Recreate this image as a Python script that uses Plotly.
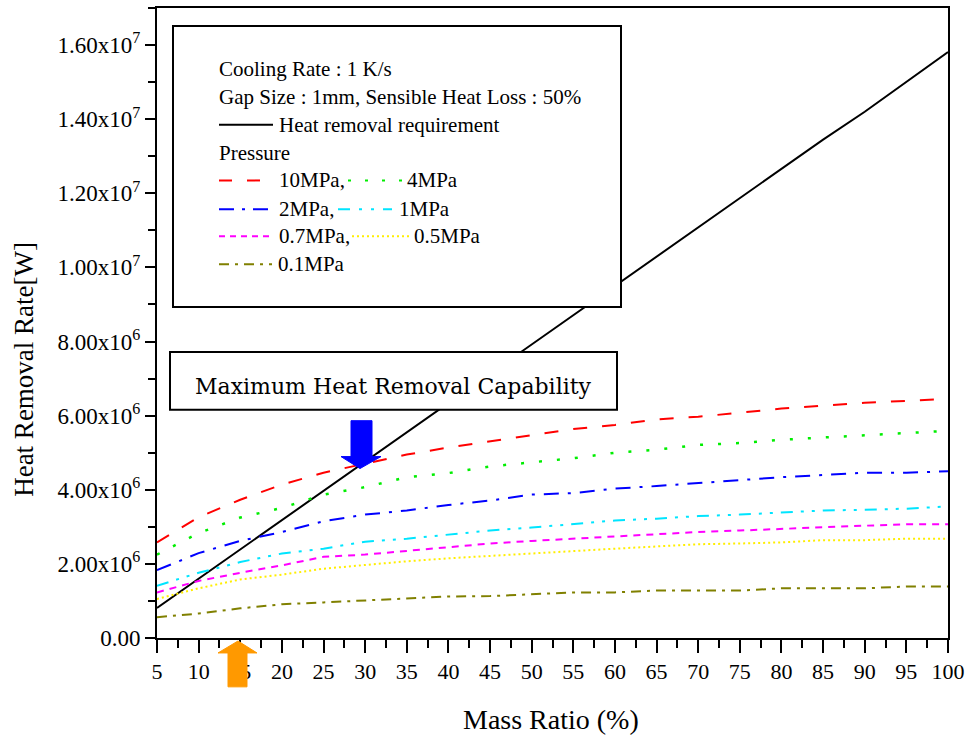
import plotly.graph_objects as go

# ---------------- data (values in W) ----------------
mass_ratio = [5, 10, 15, 20, 25, 30, 35, 40, 45, 50, 55, 60, 65, 70, 75, 80, 85, 90, 95, 100]

requirement = [0.81, 1.60, 2.39, 3.18, 3.97, 4.76, 5.55, 6.34, 7.13, 7.92,
               8.71, 9.50, 10.29, 11.08, 11.87, 12.66, 13.45, 14.20, 15.00, 15.81]
p10 = [2.58, 3.26, 3.73, 4.14, 4.46, 4.70, 4.95, 5.14, 5.30, 5.48,
       5.64, 5.75, 5.90, 5.97, 6.09, 6.19, 6.27, 6.35, 6.40, 6.45]
p4 = [2.25, 2.83, 3.25, 3.51, 3.87, 4.07, 4.34, 4.45, 4.63, 4.75,
      4.85, 5.00, 5.08, 5.21, 5.26, 5.35, 5.41, 5.48, 5.54, 5.59]
p2 = [1.83, 2.29, 2.62, 2.86, 3.15, 3.33, 3.44, 3.59, 3.71, 3.87,
      3.91, 4.03, 4.10, 4.18, 4.28, 4.34, 4.40, 4.46, 4.46, 4.50]
p1 = [1.41, 1.76, 2.05, 2.28, 2.41, 2.60, 2.68, 2.80, 2.90, 2.98,
      3.07, 3.17, 3.22, 3.29, 3.33, 3.38, 3.44, 3.46, 3.49, 3.55]
p07 = [1.23, 1.54, 1.76, 1.96, 2.19, 2.25, 2.35, 2.46, 2.55, 2.62,
       2.68, 2.72, 2.80, 2.86, 2.90, 2.95, 2.99, 3.03, 3.07, 3.07]
p05 = [1.05, 1.34, 1.58, 1.71, 1.87, 1.98, 2.07, 2.15, 2.21, 2.29,
       2.35, 2.41, 2.47, 2.53, 2.55, 2.58, 2.64, 2.64, 2.68, 2.68]
p01 = [0.56, 0.66, 0.80, 0.91, 0.96, 1.01, 1.07, 1.12, 1.13, 1.18,
       1.23, 1.23, 1.28, 1.28, 1.28, 1.34, 1.34, 1.34, 1.39, 1.39]
SCALE = 1e6

ytick_values = [0, 2e6, 4e6, 6e6, 8e6, 1e7, 1.2e7, 1.4e7, 1.6e7]
ytick_labels = ["0.00", "2.00x10<sup>6</sup>", "4.00x10<sup>6</sup>", "6.00x10<sup>6</sup>",
                "8.00x10<sup>6</sup>", "1.00x10<sup>7</sup>", "1.20x10<sup>7</sup>",
                "1.40x10<sup>7</sup>", "1.60x10<sup>7</sup>"]

# ---------------- layout geometry (pixels) ----------------
W, H = 971, 744
L, R, T, B = 157, 23, 6, 106
PW, PH = W - L - R, H - T - B


def px(x):
    return (x - L) / PW


def py(y):
    return (H - B - y) / PH


SERIF = "Liberation Serif"

series = [
    ("Heat removal requirement", requirement, "#000000", "solid", 2),
    ("10MPa", p10, "#ff0000", "14px,15px", 2),
    ("4MPa", p4, "#00ee00", "3px,15px", 2.5),
    ("2MPa", p2, "#0000ff", "15px,9px,3px,9px", 2),
    ("1MPa", p1, "#00e5ff", "12px,8px,3px,8px,3px,8px", 2),
    ("0.7MPa", p07, "#ff00ff", "7px,6px", 2),
    ("0.5MPa", p05, "#ffee00", "2px,3px", 2),
    ("0.1MPa", p01, "#808000", "10px,6px,3px,6px", 2),
]

fig = go.Figure()
for name, vals, color, dash, wd in series:
    fig.add_trace(go.Scatter(
        x=mass_ratio, y=[v * SCALE for v in vals], mode="lines", name=name,
        line=dict(color=color, dash=dash, width=wd), showlegend=False))

shapes = []
annotations = []

# legend box
shapes.append(dict(type="rect", xref="paper", yref="paper", layer="above",
                   x0=px(173), x1=px(621), y0=py(306), y1=py(24),
                   line=dict(color="black", width=2), fillcolor="white"))
# max capability box
shapes.append(dict(type="rect", xref="paper", yref="paper", layer="above",
                   x0=px(170), x1=px(617), y0=py(409), y1=py(351),
                   line=dict(color="black", width=2), fillcolor="white"))


def txt(x, y, s, size=21, family=SERIF, anchor="left"):
    annotations.append(dict(xref="paper", yref="paper", x=px(x), y=py(y), text=s,
                            showarrow=False, xanchor=anchor, yanchor="middle",
                            font=dict(family=family, size=size, color="black")))


def sample(x0, x1, y, color, dash, wd=2):
    shapes.append(dict(type="line", xref="paper", yref="paper", layer="above",
                       x0=px(x0), x1=px(x1), y0=py(y), y1=py(y),
                       line=dict(color=color, dash=dash, width=wd)))


txt(217, 67, "Cooling Rate : 1 K/s")
txt(217, 95, "Gap Size : 1mm, Sensible Heat Loss : 50%")
sample(219, 273, 123, "#000000", "solid")
txt(277, 123, "Heat removal requirement")
txt(217, 151, "Pressure")
sample(219, 262, 179, "#ff0000", "13px,15px")
txt(277, 179, "10MPa,")
sample(348, 405, 179, "#00ee00", "3px,14px")
txt(405, 179, "4MPa")
sample(219, 272, 208, "#0000ff", "15px,8px,3px,8px")
txt(277, 208, "2MPa,")
sample(338, 392, 208, "#00e5ff", "12px,9px,3px,9px,3px,9px")
txt(397, 208, "1MPa")
sample(219, 273, 235, "#ff00ff", "6px,5px")
txt(277, 235, "0.7MPa,")
sample(352, 409, 235, "#ffee00", "2px,3px")
txt(412, 235, "0.5MPa")
sample(219, 272, 263, "#808000", "10px,6px,3px,6px")
txt(276, 263, "0.1MPa")

txt(393, 386, "Maximum Heat Removal Capability", size=22, family="DejaVu Serif", anchor="center")


def arrow_path(pts):
    return "M " + " L ".join(f"{px(a):.5f},{py(b):.5f}" for a, b in pts) + " Z"


# blue down arrow
shapes.append(dict(type="path", xref="paper", yref="paper", layer="above",
                   path=arrow_path([(351, 420), (372, 420), (372, 456), (381, 456),
                                    (360, 468), (341, 456), (351, 456)]),
                   fillcolor="#0000ff", line=dict(color="#0000ff", width=1)))
# orange up arrow
shapes.append(dict(type="path", xref="paper", yref="paper", layer="above",
                   path=arrow_path([(228, 687), (247, 687), (247, 653), (257, 653),
                                    (238, 641), (218, 653), (228, 653)]),
                   fillcolor="#ff9900", line=dict(color="#ff9900", width=1)))

# axis titles
annotations.append(dict(xref="paper", yref="paper", x=px(551), y=py(720),
                        text="Mass Ratio (%)", showarrow=False, xanchor="center", yanchor="middle",
                        font=dict(family=SERIF, size=28, color="black")))
annotations.append(dict(xref="paper", yref="paper", x=px(24), y=py(369),
                        text="Heat Removal Rate[W]", showarrow=False, textangle=-90,
                        xanchor="center", yanchor="middle",
                        font=dict(family=SERIF, size=27, color="black")))

fig.update_layout(
    width=W, height=H,
    margin=dict(l=L, r=R, t=T, b=B, pad=0),
    paper_bgcolor="white", plot_bgcolor="white",
    showlegend=False,
    shapes=shapes, annotations=annotations,
    xaxis=dict(range=[5, 100], tickmode="linear", tick0=5, dtick=5,
               showgrid=False, zeroline=False,
               showline=True, linecolor="black", linewidth=2, mirror=True,
               ticks="outside", ticklen=13, tickwidth=2, tickcolor="black",
               minor=dict(dtick=2.5, tick0=5, ticks="outside", ticklen=8,
                          tickwidth=2, tickcolor="black"),
               tickfont=dict(family=SERIF, size=22, color="black")),
    yaxis=dict(range=[0, 1.7e7], tickmode="array", tickvals=ytick_values, ticktext=ytick_labels,
               showgrid=False, zeroline=False,
               showline=True, linecolor="black", linewidth=2, mirror=True,
               ticks="outside", ticklen=10, tickwidth=2, tickcolor="black",
               minor=dict(dtick=1e6, ticks="outside", ticklen=7,
                          tickwidth=2, tickcolor="black"),
               tickfont=dict(family=SERIF, size=23, color="black")),
)

fig.write_html("out.html")
